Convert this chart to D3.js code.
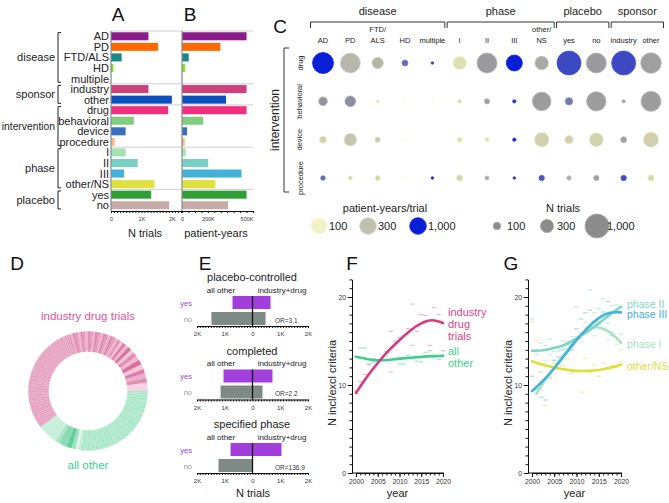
<!DOCTYPE html>
<html><head><meta charset="utf-8">
<script src="https://cdn.jsdelivr.net/npm/d3@7"></script>
<style>body{margin:0;background:#fff}svg{display:block;font-family:"Liberation Sans",Arial,sans-serif}</style>
</head><body><svg id="c" width="669" height="503"></svg>
<script>
// ---------------- DATA ----------------
// Panels A / B
const abCategories = ["AD","PD","FTD/ALS","HD","multiple","industry","other","drug","behavioral","device","procedure","I","II","III","other/NS","yes","no"];
const abGroupNames = ["disease","sponsor","intervention","phase","placebo"];
const abGroupSizes = [5,2,4,4,2];
const abTrials = [1230,1550,350,80,10,1230,2000,1880,750,480,120,480,880,430,1430,1320,1910];
const abPatientYearsK = [500,297,52,23,3,500,341,500,164,39,21,29,203,461,258,500,357];
const abColors = ["#8c1c8c","#ff6a00","#178a87","#7ee620","#bbbbbb","#cf3f7b","#0a4fbd","#f0307f","#80cd80","#3a6fc0","#f7b98f","#a6e2b0","#79d1c6","#43b1da","#e0e040","#2f9f35","#c8aba9"];
const aTickLabels = {0:"0",1000:"1K",2000:"2K"};
const bTickLabels = {0:"0",200:"200K",500:"500K"};

// Panel C
const cColumns = ["AD","PD","FTD/ALS","HD","multiple","I","II","III","other/NS","yes","no","industry","other"];
const cColumnGroups = ["disease","disease","disease","disease","disease","phase","phase","phase","phase","placebo","placebo","sponsor","sponsor"];
const cGroupNames = ["disease","phase","placebo","sponsor"];
const cRows = ["drug","behavioral","device","procedure"];
const cTrials = [
  [765,694,225,62,12,340,694,444,312,1000,694,1000,736],
  [128,195,20,7,7,28,50,20,600,95,653,20,694],
  [95,275,50,7,4,50,37,20,370,128,340,62,411],
  [37,37,50,7,12,76,28,12,50,37,50,50,76]
];
const cPatientYearsPerTrial = [
  [1000,330,340,600,800,160,450,1000,380,760,450,760,430],
  [470,490,180,150,150,200,430,850,440,560,440,430,440],
  [220,270,260,130,120,180,170,900,230,230,220,430,230],
  [620,200,220,150,900,210,390,850,700,360,430,750,200]
];
const cColorLegend = [100,300,1000];
const cSizeLegend = [100,300,1000];

// Panel D
const donutOther = [2,2,1.5,2,2,2.5,2,1.5,2,2,2,2.5,2,2,1.5,2,2,2,2.5,2,2,2,1.5,2,2,2.5,2,2,2,2,1.5,2,2,2.5,2,2,2,2,2,2.5,2,2,2,2.5,2.5,3,2.5, 3,3,4,5,8,4,20];
const donutIndustry = [2,2,2,1.5,2,2,2,2,2.5,2,2,2,1.5,2,2,2,2,2,2.5,2,2,2,2,1.5,2,2,2,2,2,2.5,2,2,2,1.5,2,2,2,2,2,2,2.5,2,2,2,2,1.5,2,2,2,2,2.5,2,2,2,
  2.5,2,2.5,3,2.5,2,2.5,3,2.5,2.5,2,3,2.5,2.5,3,2.5,2,3,2.5,2.5,
  3,3,3,3.5,3.5,4,4,4.5,5,5,4,5,4.5,8];

// Panel E
const eTitles = ["placebo-controlled","completed","specified phase"];
const eYesAllOther = [720,1045,790];
const eYesIndustryDrug = [650,720,1045];
const eNoAllOther = [1480,1150,1225];
const eNoIndustryDrug = [470,360,12];
const eOddsRatios = ["3.1","2.2","136.9"];

// Panels F / G
const years = [2000,2001,2002,2003,2004,2005,2006,2007,2008,2009,2010,2011,2012,2013,2014,2015,2016,2017,2018,2019,2020];
const fIndustryMeans = [9.3,10.4,11.2,12.3,12.6,12.8,12.9,13.8,16.1,15.0,15.4,15.6,16.4,19.2,16.1,18.0,17.9,14.5,18.8,18.0,13.9];
const fOtherMeans = [13.2,14.2,14.2,12.4,13.0,12.7,12.9,12.9,11.5,12.9,12.4,12.4,13.4,14.5,12.7,12.6,13.7,13.9,13.2,12.9,13.4];
const fitYears = [2000,2002.5,2005,2007.5,2010,2012.5,2015,2017.5,2020];
const fIndustryFit = [9.1,10.9,12.5,13.9,15.1,16.2,17.0,17.35,17.05];
const fOtherFit = [13.2,12.95,12.8,12.85,13.0,13.1,13.2,13.28,13.3];

const gPhase2Means = [17.5,13.5,14.8,14.5,15.2,13.8,14.0,15.0,14.8,15.5,18.9,15.3,16.5,20.8,18.2,18.7,19.8,17.0,19.0,19.1,15.8];
const gPhase3Means = [11.0,9.5,8.6,8.3,10.8,12.8,13.2,14.0,14.6,14.0,16.4,17.5,18.2,18.5,17.2,17.0,18.3,19.5,15.6,18.5,18.8];
const gPhase1Means = [null,9.0,11.5,12.8,13.5,12.1,13.8,14.2,15.0,14.5,15.5,16.0,17.1,16.8,15.6,16.5,17.8,15.2,16.0,14.6,14.0];
const gOtherNSMeans = [17.2,15.1,11.5,7.7,11.0,12.5,11.8,12.2,13.0,11.3,11.5,9.2,13.0,11.4,12.3,11.0,12.5,11.8,12.2,12.0,12.6];
const gPhase2Fit = [13.9,13.95,14.2,14.6,15.3,16.1,17.0,18.0,18.9];
const gPhase3Fit = [9.3,10.5,11.9,13.5,15.1,16.5,17.6,18.2,18.25];
const gFitYearsP1 = [2001,2003,2005,2007.5,2010,2012,2014,2016,2018,2020];
const gPhase1Fit = [9.0,10.6,12.0,13.7,15.2,16.1,16.55,16.4,15.8,14.8];
const gOtherNSFit = [12.7,12.3,12.0,11.75,11.6,11.6,11.7,11.95,12.3];

// ---------------- DRAW ----------------
const svg = d3.select("#c");
svg.append("rect").attr("width",669).attr("height",503).attr("fill","#fff");
function txt(g,x,y,s,size,opts={}){
  const t=g.append("text").attr("x",x).attr("y",y).text(s).attr("font-size",size)
    .attr("fill",opts.fill||"#222").attr("text-anchor",opts.anchor||"start");
  if(opts.baseline) t.attr("dominant-baseline",opts.baseline);
  if(opts.rotate!==undefined) t.attr("transform",`rotate(${opts.rotate},${x},${y})`);
  return t;
}
// panel letters
[["A",118,21],["B",190,21],["C",280,33],["D",17,270],["E",205,270],["F",352,270],["G",511,270]]
  .forEach(([l,x,y])=>txt(svg,x,y,l,19,{anchor:"middle",fill:"#111"}));

// ---- Panels A & B ----
const gAB = svg.append("g");
const yAB = d3.scaleBand().domain(abCategories).range([31,210.5]).paddingInner(0.24).paddingOuter(0.12);
const xA = d3.scaleLinear().domain([0,2300]).range([111,181]);
const xB = d3.scaleLinear().domain([0,550]).range([182,253]);
const stepPad = yAB.step()*0.12;
let gi0=0;
abGroupNames.forEach((name,gi)=>{
  const first=abCategories[gi0], last=abCategories[gi0+abGroupSizes[gi]-1];
  const yTop=yAB(first)-stepPad;
  gAB.append("line").attr("x1",111).attr("x2",253).attr("y1",yTop).attr("y2",yTop).attr("stroke","#cfcfcf").attr("stroke-width",1);
  const b1=yAB(first)+0.3, b2=yAB(last)+yAB.bandwidth()-0.3;
  gAB.append("path").attr("d",`M61,${b1}H58V${b2}H61`).attr("fill","none").attr("stroke","#222").attr("stroke-width",1);
  txt(gAB,55,(b1+b2)/2,name,name.length>10?10.3:11,{anchor:"end",baseline:"central"});
  gi0+=abGroupSizes[gi];
});
abCategories.forEach((c,i)=>{
  txt(gAB,109,yAB(c)+yAB.bandwidth()/2,c,11,{anchor:"end",baseline:"central"});
  gAB.append("rect").attr("x",xA(0)).attr("y",yAB(c)).attr("width",xA(abTrials[i])-xA(0)).attr("height",yAB.bandwidth()).attr("fill",abColors[i]);
  gAB.append("rect").attr("x",xB(0)).attr("y",yAB(c)).attr("width",xB(abPatientYearsK[i])-xB(0)).attr("height",yAB.bandwidth()).attr("fill",abColors[i]);
});
[xA,xB].forEach(s=>gAB.append("line").attr("x1",s(0)).attr("x2",s(0)).attr("y1",31).attr("y2",211).attr("stroke","#8a8a8a").attr("stroke-width",1.2));
const axA = gAB.append("g").attr("transform","translate(0,211)")
  .call(d3.axisBottom(xA).tickValues(d3.range(0,2301,100)).tickSize(2).tickSizeOuter(0).tickPadding(4)
  .tickFormat(d=>aTickLabels[d]||""));
const axB = gAB.append("g").attr("transform","translate(0,211)")
  .call(d3.axisBottom(xB).tickValues(d3.range(0,551,50)).tickSize(2).tickSizeOuter(0).tickPadding(4)
  .tickFormat(d=>bTickLabels[d]||""));
[axA,axB].forEach(a=>{a.selectAll("text").attr("font-size",5.5).attr("fill","#333");a.selectAll("line,path").attr("stroke","#111");});
txt(gAB,145,237,"N trials",11,{anchor:"middle"});
txt(gAB,216,237,"patient-years",11,{anchor:"middle"});

// ---- Panel C ----
const gC = svg.append("g");
const xC = d3.scalePoint().domain(cColumns).range([323,651]);
const yC = d3.scalePoint().domain(cRows).range([63,178]);
const rC = d3.scaleSqrt().domain([0,1000]).range([0,12]);
const colorC = d3.scaleLog().domain([100,200,300,450,1000]).range(["#f2f2c8","#d8d8b0","#c0c0b0","#9b9b9d","#0a1ed6"]).clamp(true);
cGroupNames.forEach(gn=>{
  const cols=cColumns.filter((c,i)=>cColumnGroups[i]===gn);
  const x1=xC(cols[0])-12.5, x2=xC(cols[cols.length-1])+12.5;
  gC.append("path").attr("d",`M${x1},28V22H${x2}V28`).attr("fill","none").attr("stroke","#333").attr("stroke-width",1);
  txt(gC,(x1+x2)/2,15,gn,11,{anchor:"middle"});
});
cColumns.forEach(c=>{
  const parts=c.split("/");
  if(parts.length>1){
    txt(gC,xC(c),32,parts[0]+"/",7.5,{anchor:"middle"});
    txt(gC,xC(c),42.5,parts[1],7.5,{anchor:"middle"});
  } else txt(gC,xC(c),42.5,c,7.5,{anchor:"middle"});
});
gC.append("path").attr("d","M289,48H284V192H289").attr("fill","none").attr("stroke","#333").attr("stroke-width",1);
txt(gC,275,120,"intervention",12,{anchor:"middle",baseline:"central",rotate:-90});
cRows.forEach((r,ri)=>{
  txt(gC,300,yC(r),r,7.5,{anchor:"middle",baseline:"central",rotate:-90});
  cColumns.forEach((c,ci)=>{
    const col=d3.color(colorC(cPatientYearsPerTrial[ri][ci]));
    gC.append("circle").attr("cx",xC(c)).attr("cy",yC(r)).attr("r",rC(cTrials[ri][ci]))
      .attr("fill",col.formatHex()).attr("stroke",col.brighter(0.4).formatHex()).attr("stroke-width",0.8);
  });
});
// legends
txt(gC,385,212,"patient-years/trial",11,{anchor:"middle"});
const legX1=[319,368,418];
cColorLegend.forEach((v,i)=>{
  const col=d3.color(colorC(v));
  gC.append("circle").attr("cx",legX1[i]).attr("cy",226).attr("r",8.3).attr("fill",col.formatHex()).attr("stroke",col.brighter(0.3).formatHex()).attr("stroke-width",0.8);
  txt(gC,legX1[i]+10,226,d3.format(",")(v),11,{baseline:"central"});
});
txt(gC,563,212,"N trials",11,{anchor:"middle"});
const legX2=[497,547,597];
cSizeLegend.forEach((v,i)=>{
  gC.append("circle").attr("cx",legX2[i]).attr("cy",226).attr("r",rC(v)).attr("fill","#8c8c8c").attr("stroke","#a8a8a8").attr("stroke-width",0.8);
  txt(gC,legX2[i]+10,226,d3.format(",")(v),11,{baseline:"central"});
});

// ---- Panel D ----
const gD = svg.append("g").attr("transform","translate(88,391)");
const slices = donutOther.map((v,i)=>({grp:"other",i,v})).concat(donutIndustry.map((v,i)=>({grp:"industry",i,v})));
const pie = d3.pie().value(d=>d.v).sort(null).startAngle(Math.PI/2).endAngle(Math.PI/2+2*Math.PI);
const arc = d3.arc().innerRadius(39.5).outerRadius(59.5);
const otherTail=["#c2edd8","#e2f6ec","#a0e2c2","#63cf99","#8ddbb5","#a8e5c8","#c9efdc"];
const indMid=["#e59bbc","#eeb7cf","#df8db2"];
const indTail=["#e394b8","#f0c0d5","#dc7fa8","#eeb6ce","#d9719f","#f1c4d8","#e08bb0","#efbad1","#d86f9c","#f2c8da","#dd7aa5","#ecaecb","#e08fb3","#f6d3e2"];
function sliceColor(d){
  if(d.grp==="other"){
    const n=donutOther.length;
    if(d.i>=n-7) return otherTail[d.i-(n-7)];
    return d.i%2? "#b3eacf":"#a8e6c8";
  } else {
    const n=donutIndustry.length;
    if(d.i>=n-14) return indTail[d.i-(n-14)];
    if(d.i>=54) return indMid[d.i%3];
    return d.i%2? "#e8a8c5":"#e6a2c1";
  }
}
gD.selectAll("path").data(pie(slices)).join("path").attr("d",arc)
  .attr("fill",d=>sliceColor(d.data)).attr("stroke",d=>sliceColor(d.data)).attr("stroke-width",0.3);
txt(svg,88,320,"industry drug trials",11.5,{anchor:"middle",fill:"#e0559a"});
txt(svg,88,469,"all other",11.5,{anchor:"middle",fill:"#3fd08f"});

// ---- Panel E ----
const gE = svg.append("g");
const xE = d3.scaleLinear().domain([-2000,2000]).range([197,308]);
const eFmt = d=> d===0?"0":Math.abs(d)/1000+"K";
eTitles.forEach((t,i)=>{
  const bt = 296 + i*73.5;
  txt(gE,252,bt-15,t,11,{anchor:"middle"});
  txt(gE,221,bt-6,"all other",8,{anchor:"middle",baseline:"central"});
  txt(gE,282,bt-6,"industry+drug",8,{anchor:"middle",baseline:"central"});
  gE.append("rect").attr("x",xE(-eYesAllOther[i])).attr("y",bt).attr("width",xE(eYesIndustryDrug[i])-xE(-eYesAllOther[i])).attr("height",13).attr("fill","#a23fdc");
  gE.append("rect").attr("x",xE(-eNoAllOther[i])).attr("y",bt+16).attr("width",xE(eNoIndustryDrug[i])-xE(-eNoAllOther[i])).attr("height",13).attr("fill","#7d8a86");
  gE.append("line").attr("x1",xE(0)).attr("x2",xE(0)).attr("y1",bt).attr("y2",bt+30).attr("stroke","#111").attr("stroke-width",1.3);
  txt(gE,192,bt+7,"yes",7.5,{anchor:"end",baseline:"central",fill:"#a23fdc"});
  txt(gE,192,bt+23,"no",7.5,{anchor:"end",baseline:"central",fill:"#999"});
  txt(gE,275,bt+24,"OR="+eOddsRatios[i],6.5,{baseline:"central",fill:"#333"});
  const ax=gE.append("g").attr("transform",`translate(0,${bt+30})`)
    .call(d3.axisBottom(xE).tickValues(d3.range(-2000,2001,100)).tickSize(2).tickSizeOuter(0).tickPadding(4)
      .tickFormat(d=>d%1000===0?eFmt(d):""));
  ax.selectAll("text").attr("font-size",6).attr("fill","#333");
  ax.selectAll("line,path").attr("stroke","#111");
});
txt(gE,253,497,"N trials",11,{anchor:"middle"});

// ---- Panels F & G ----
const yFG = d3.scaleLinear().domain([0,22]).range([473,279.4]);
function trendPanel(x0, xr, labelX){
  const g=svg.append("g");
  const xs=d3.scaleLinear().domain([2000,2020]).range(xr);
  const yMinor=g.append("g").attr("transform",`translate(${x0},0)`).call(d3.axisLeft(yFG).tickValues(d3.range(0,23,1)).tickSize(2.5).tickSizeOuter(0).tickFormat(""));
  const yMajor=g.append("g").attr("transform",`translate(${x0},0)`).call(d3.axisLeft(yFG).tickValues([0,10,20]).tickSize(4).tickSizeOuter(0).tickPadding(2));
  const xMinor=g.append("g").attr("transform","translate(0,473)").call(d3.axisBottom(xs).tickValues(d3.range(2000,2021,1)).tickSize(2.5).tickSizeOuter(0).tickFormat(""));
  const xMajor=g.append("g").attr("transform","translate(0,473)").call(d3.axisBottom(xs).tickValues([2000,2005,2010,2015,2020]).tickSize(4).tickSizeOuter(0).tickPadding(2).tickFormat(d3.format("d")));
  g.append("line").attr("x1",x0).attr("x2",xr[1]+1).attr("y1",473).attr("y2",473).attr("stroke","#111");
  [yMinor,yMajor,xMinor,xMajor].forEach(a=>{a.selectAll("line,path").attr("stroke","#111");a.selectAll("text").attr("font-size",6.8).attr("fill","#333");});
  txt(g,(x0+xr[1])/2,497,"year",11,{anchor:"middle"});
  txt(g,labelX,383,"N incl/excl criteria",11,{anchor:"middle",baseline:"central",rotate:-90});
  return {g,xs};
}
function dashes(g,xs,vals,color){
  vals.forEach((v,i)=>{ if(v===null) return;
    g.append("line").attr("x1",xs(years[i])-2.2).attr("x2",xs(years[i])+2.2).attr("y1",yFG(v)).attr("y2",yFG(v))
      .attr("stroke",color).attr("stroke-opacity",0.45).attr("stroke-width",1.3);});
}
function fit(g,xs,xv,yv,color){
  const line=d3.line().x((d,i)=>xs(xv[i])).y(d=>yFG(d)).curve(d3.curveNatural);
  g.append("path").attr("d",line(yv)).attr("fill","none").attr("stroke",color).attr("stroke-width",2.6).attr("stroke-linecap","round");
}
// F
const pF = trendPanel(352,[356,443],332);
dashes(pF.g,pF.xs,fIndustryMeans,"#e0669c");
dashes(pF.g,pF.xs,fOtherMeans,"#46cf92");
fit(pF.g,pF.xs,fitYears,fOtherFit,"#3ecf8e");
fit(pF.g,pF.xs,fitYears,fIndustryFit,"#d63b7b");
[["industry",315.5],["drug",327.5],["trials",339.5]].forEach(([s,y])=>txt(pF.g,448,y,s,11,{fill:"#d8468a"}));
[["all",354.5],["other",367]].forEach(([s,y])=>txt(pF.g,448,y,s,11,{fill:"#3ecf8e"}));
// G
const pG = trendPanel(528,[532,621],508);
const cP2="#7fd6c6", cP3="#42b3dc", cP1="#a6e4c0", cNS="#dede3c";
dashes(pG.g,pG.xs,gPhase2Means,cP2);
dashes(pG.g,pG.xs,gPhase3Means,cP3);
dashes(pG.g,pG.xs,gPhase1Means,cP1);
dashes(pG.g,pG.xs,gOtherNSMeans,cNS);
fit(pG.g,pG.xs,fitYears,gOtherNSFit,cNS);
fit(pG.g,pG.xs,gFitYearsP1,gPhase1Fit,cP1);
fit(pG.g,pG.xs,fitYears,gPhase2Fit,cP2);
fit(pG.g,pG.xs,fitYears,gPhase3Fit,cP3);
txt(pG.g,627,307.5,"phase II",10.5,{fill:cP2});
txt(pG.g,627,318,"phase III",10.5,{fill:cP3});
txt(pG.g,627,348,"phase I",10.5,{fill:cP1});
txt(pG.g,627,370,"other/NS",10.5,{fill:cNS});
</script></body></html>
